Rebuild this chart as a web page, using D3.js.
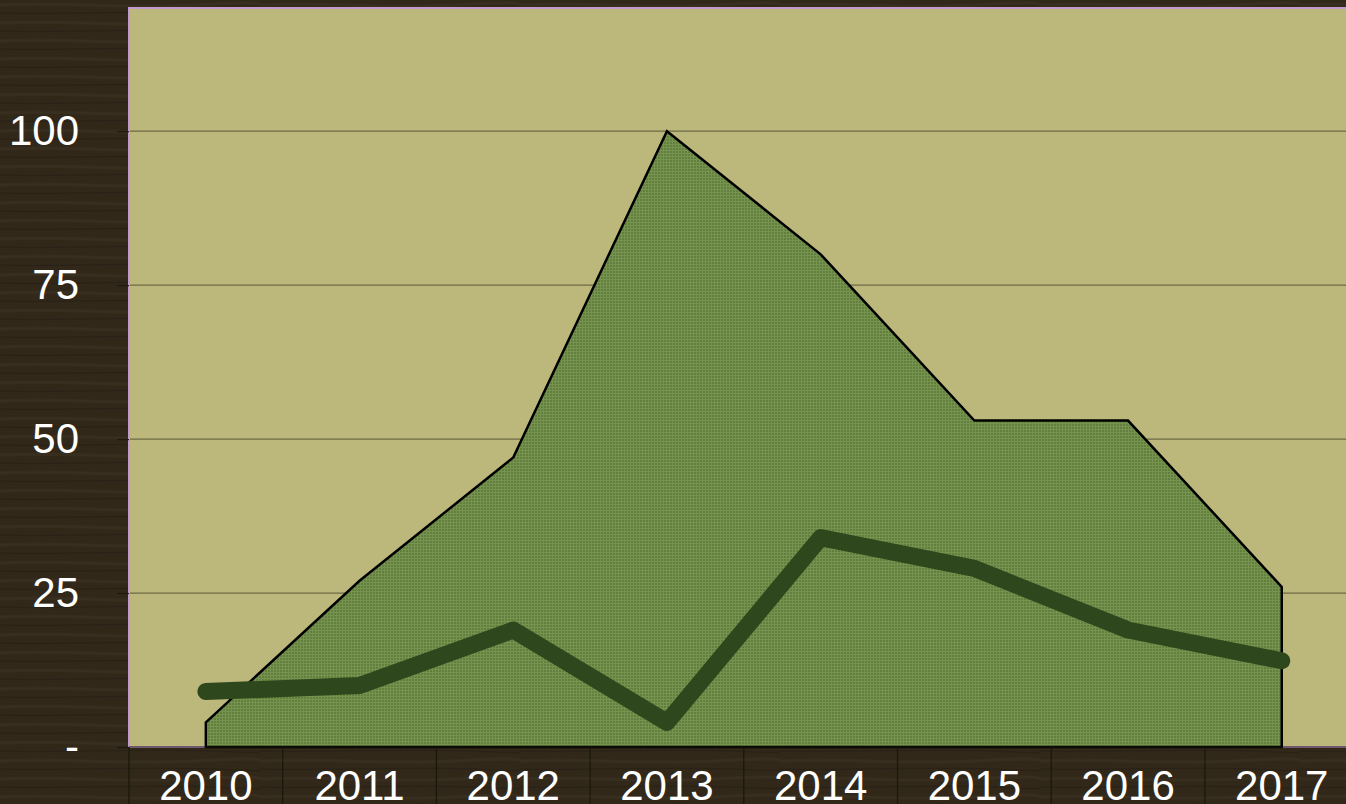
<!DOCTYPE html>
<html>
<head>
<meta charset="utf-8">
<script src="https://cdn.jsdelivr.net/npm/d3@7"></script>
<style>
  html, body { margin: 0; padding: 0; background: #30271a; overflow: hidden; }
  svg { display: block; }
</style>
</head>
<body>
<div id="chart"></div>
<script>
// chart values
const years = ["2010", "2011", "2012", "2013", "2014", "2015", "2016", "2017"];
const areaValues = [4, 27, 47, 100, 80, 53, 53, 26];
const lineValues = [9, 10, 19, 4, 34, 29, 19, 14];
const yTicks = [0, 25, 50, 75, 100];
const yTickLabels = ["-", "25", "50", "75", "100"];

const width = 1346;
const height = 804;
const margin = {top: 8, left: 129, bottom: 57};
const band = 153.7;

const svg = d3.select("#chart")
    .append("svg")
    .attr("width", width)
    .attr("height", height);

const defs = svg.append("defs");

// dark wood-ish background
const wood = defs.append("pattern")
    .attr("id", "wood")
    .attr("patternUnits", "userSpaceOnUse")
    .attr("width", 260)
    .attr("height", 18);
wood.append("rect").attr("width", 260).attr("height", 18).attr("fill", "#31281a");
wood.append("path")
    .attr("d", "M0,5 C65,2 130,9 195,5 S260,4 260,5")
    .attr("stroke", "#382e20").attr("stroke-width", 3).attr("fill", "none");
wood.append("path")
    .attr("d", "M0,13 C70,15 140,10 210,13 S260,14 260,13")
    .attr("stroke", "#2a2216").attr("stroke-width", 1.5).attr("fill", "none");

// fine green grid fill for the area
const mesh = defs.append("pattern")
    .attr("id", "mesh")
    .attr("patternUnits", "userSpaceOnUse")
    .attr("width", 3)
    .attr("height", 3);
mesh.append("rect").attr("width", 3).attr("height", 3).attr("fill", "#627f3e");
mesh.append("rect").attr("width", 3).attr("height", 1).attr("fill", "#76944f");
mesh.append("rect").attr("width", 1).attr("height", 3).attr("fill", "#76944f");

svg.append("rect")
    .attr("width", width)
    .attr("height", height)
    .attr("fill", "url(#wood)");

const x = d3.scaleBand()
    .domain(years)
    .range([margin.left, margin.left + band * years.length])
    .padding(0);

const y = d3.scaleLinear()
    .domain([0, 120])
    .range([height - margin.bottom, margin.top]);

const cx = d => x(d) + x.bandwidth() / 2;

// plot background
svg.append("rect")
    .attr("x", margin.left)
    .attr("y", y(120))
    .attr("width", width - margin.left + 20)
    .attr("height", y(0) - y(120))
    .attr("fill", "#bcb77b")
    .attr("stroke", "#c39ad0")
    .attr("stroke-width", 2);

// gridlines
svg.append("g")
    .selectAll("line")
    .data(yTicks.filter(t => t > 0))
    .join("line")
    .attr("x1", margin.left + 1)
    .attr("x2", width)
    .attr("y1", d => y(d))
    .attr("y2", d => y(d))
    .attr("stroke", "#6d6a45")
    .attr("stroke-width", 1.2);

// y axis
const yAxis = d3.axisLeft(y)
    .tickValues(yTicks)
    .tickSize(12)
    .tickPadding(38)
    .tickFormat((d, i) => yTickLabels[i]);

const gy = svg.append("g")
    .attr("transform", `translate(${margin.left},0)`)
    .call(yAxis);
gy.select(".domain").remove();
gy.selectAll(".tick line").attr("stroke", "#1e1a10").attr("stroke-width", 1.2);
gy.selectAll(".tick text")
    .attr("fill", "#ffffff")
    .attr("font-family", "Liberation Sans, Arial, sans-serif")
    .attr("font-size", 42);

// area series
const area = d3.area()
    .x((d, i) => cx(years[i]))
    .y0(y(0))
    .y1(d => y(d));

svg.append("path")
    .datum(areaValues)
    .attr("d", area)
    .attr("fill", "url(#mesh)")
    .attr("stroke", "#000000")
    .attr("stroke-width", 2.5)
    .attr("stroke-linejoin", "miter");

// thick line series
const line = d3.line()
    .x((d, i) => cx(years[i]))
    .y(d => y(d));

svg.append("path")
    .datum(lineValues)
    .attr("d", line)
    .attr("fill", "none")
    .attr("stroke", "#2f471d")
    .attr("stroke-width", 17)
    .attr("stroke-linecap", "round")
    .attr("stroke-linejoin", "round");

// x axis: category dividers and labels
const gx = svg.append("g");
gx.selectAll("line")
    .data(years)
    .join("line")
    .attr("x1", d => x(d))
    .attr("x2", d => x(d))
    .attr("y1", y(0))
    .attr("y2", height)
    .attr("stroke", "#1a160c")
    .attr("stroke-width", 1.2);
gx.append("line")
    .attr("x1", margin.left)
    .attr("x2", width)
    .attr("y1", y(0))
    .attr("y2", y(0))
    .attr("stroke", "#1a160c")
    .attr("stroke-width", 1);
gx.selectAll("text")
    .data(years)
    .join("text")
    .attr("x", d => cx(d))
    .attr("y", 800)
    .attr("text-anchor", "middle")
    .attr("fill", "#ffffff")
    .attr("font-family", "Liberation Sans, Arial, sans-serif")
    .attr("font-size", 42)
    .text(d => d);
</script>
</body>
</html>
